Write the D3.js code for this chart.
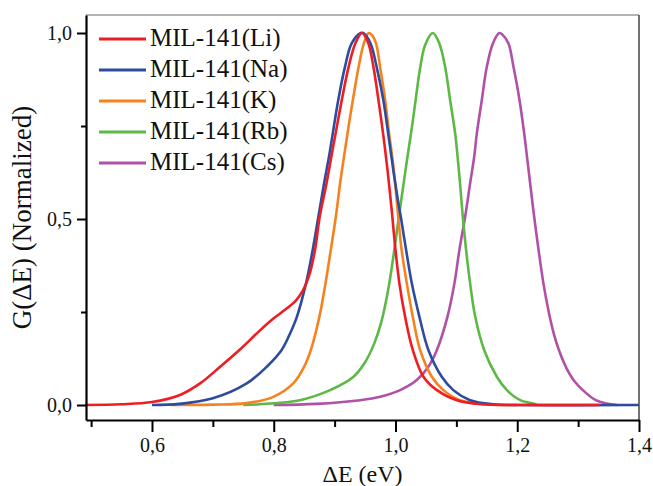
<!DOCTYPE html>
<html>
<head>
<meta charset="utf-8">
<script src="https://cdn.jsdelivr.net/npm/d3@7"></script>
<style>
  html, body { margin: 0; padding: 0; background: #fff; }
  svg { display: block; }
  svg text { font-family: "Liberation Serif", "DejaVu Serif", "Times New Roman", Times, serif !important; fill: #111; }
</style>
</head>
<body>
<svg id="chart" width="653" height="486"></svg>
<script>
// Normalized distributions G(ΔE) for the MIL-141 series, as [ΔE (eV), G] pairs
const seriesNames = ["MIL-141(Li)", "MIL-141(Na)", "MIL-141(K)", "MIL-141(Rb)", "MIL-141(Cs)"];
const seriesColors = ["#ee1d23", "#2e4c9f", "#f5821f", "#5cb946", "#b050a6"];

const li = [
  [0.49,0],[0.55,0.002],[0.60,0.008],[0.646,0.027],[0.679,0.058],[0.712,0.103],[0.745,0.150],
  [0.777,0.200],[0.80,0.233],[0.82,0.258],[0.836,0.28],[0.848,0.308],[0.858,0.347],[0.8678,0.417],
  [0.8755,0.506],[0.886,0.59],[0.896,0.68],[0.905,0.76],[0.913,0.83],[0.923,0.909],[0.934,0.972],
  [0.945,1.0],[0.9555,0.972],[0.9637,0.909],[0.972,0.820],[0.980,0.725],[0.987,0.63],[0.994,0.52],
  [0.9995,0.425],[1.0064,0.327],[1.0158,0.237],[1.0284,0.148],[1.0459,0.076],[1.068,0.040],
  [1.1008,0.013],[1.14,0.002],[1.2,0],[1.336,0]
];
const na = [
  [0.60,0],[0.645,0.003],[0.70,0.018],[0.7556,0.058],[0.7885,0.103],[0.813,0.148],[0.827,0.193],
  [0.838,0.237],[0.853,0.327],[0.864,0.417],[0.8733,0.506],[0.8827,0.596],[0.8915,0.675],
  [0.906,0.82],[0.917,0.909],[0.928,0.972],[0.943,1.0],[0.947,1.0],[0.959,0.972],[0.969,0.909],
  [0.980,0.82],[0.988,0.73],[0.9965,0.63],[1.004,0.55],[1.0087,0.506],[1.0174,0.417],[1.0268,0.327],
  [1.0393,0.237],[1.054,0.148],[1.076,0.076],[1.095,0.040],[1.1226,0.013],[1.16,0.002],[1.2,0],[1.4,0]
];
const k = [
  [0.63,0],[0.70,0.001],[0.7556,0.005],[0.7994,0.022],[0.832,0.058],[0.85,0.103],[0.861,0.148],
  [0.875,0.237],[0.885,0.327],[0.8937,0.417],[0.902,0.506],[0.909,0.596],[0.917,0.685],[0.924,0.76],
  [0.931,0.83],[0.939,0.905],[0.948,0.972],[0.956,1.0],[0.961,0.995],[0.968,0.972],[0.9747,0.909],[0.983,0.82],
  [0.9895,0.73],[0.9966,0.641],[1.002,0.55],[1.006,0.48],[1.010,0.417],[1.0186,0.327],[1.0284,0.237],
  [1.0404,0.148],[1.0597,0.076],[1.0787,0.040],[1.106,0.013],[1.15,0.002],[1.2,0]
];
const rb = [
  [0.75,0],[0.777,0.002],[0.843,0.013],[0.8925,0.040],[0.931,0.076],[0.95,0.115],[0.965,0.165],
  [0.977,0.225],[0.988,0.31],[0.9966,0.40],[1.005,0.50],[1.012,0.58],[1.019,0.66],[1.0268,0.745],
  [1.0339,0.83],[1.0404,0.905],[1.0487,0.968],[1.0613,1.0],[1.072,0.972],[1.0815,0.909],[1.0897,0.82],
  [1.098,0.73],[1.103,0.65],[1.106,0.596],[1.1106,0.506],[1.116,0.417],[1.1226,0.327],[1.131,0.237],
  [1.1456,0.148],[1.1665,0.076],[1.183,0.040],[1.2048,0.013],[1.23,0.002],[1.232,0]
];
const cs = [
  [0.80,0],[0.87,0.003],[0.942,0.013],[0.975,0.022],[1.0076,0.040],[1.035,0.067],[1.054,0.103],
  [1.068,0.148],[1.0853,0.237],[1.0968,0.327],[1.105,0.417],[1.1144,0.506],[1.1226,0.596],
  [1.1295,0.67],[1.1336,0.73],[1.1418,0.82],[1.150,0.909],[1.160,0.972],[1.1705,1.0],[1.176,0.995],
  [1.1856,0.972],[1.1938,0.909],[1.2037,0.82],[1.2114,0.73],[1.218,0.64],[1.2212,0.596],[1.2278,0.506],
  [1.235,0.417],[1.243,0.327],[1.252,0.248],[1.26,0.192],[1.269,0.145],[1.28,0.102],[1.293,0.066],
  [1.309,0.038],[1.329,0.013],[1.347,0.004],[1.364,0]
];
const seriesData = [li, na, k, rb, cs];

const xMajorTicks = [0.6, 0.8, 1.0, 1.2, 1.4];
const xMinorTicks = [0.5, 0.7, 0.9, 1.1, 1.3];
const yMajorTicks = [0.0, 0.5, 1.0];
const yMinorTicks = [0.25, 0.75];
const xTitle = "ΔE (eV)";
const yTitle = "G(ΔE) (Normalized)";

// plot frame
const frameL = 86, frameR = 639, frameT = 15, frameB = 420;

const svg = d3.select("#chart");
const x = d3.scaleLinear().domain([0.4916, 1.4]).range([frameL, frameR]);
const y = d3.scaleLinear().domain([-0.0403, 1.0484]).range([frameB, frameT]);
const fmt = d => d3.format(".1f")(d).replace(".", ",");

// curves, drawn back to front so Li ends up on top
const line = d3.line().x(d => x(d[0])).y(d => y(d[1])).curve(d3.curveCatmullRom.alpha(0.5));
const order = [4, 3, 2, 1, 0];
svg.append("g").selectAll("path")
  .data(order)
  .join("path")
  .attr("d", i => line(seriesData[i]))
  .attr("fill", "none")
  .attr("stroke", i => seriesColors[i])
  .attr("stroke-width", 2.6)
  .attr("stroke-linejoin", "round");

// top and right border
svg.append("line").attr("x1", frameL).attr("x2", frameR).attr("y1", frameT).attr("y2", frameT)
  .attr("stroke", "#9a9a9a").attr("stroke-width", 1.5);
svg.append("line").attr("x1", frameR).attr("x2", frameR).attr("y1", frameT).attr("y2", frameB)
  .attr("stroke", "#444").attr("stroke-width", 1.5);

// x axis
const xAxis = d3.axisBottom(x).tickValues(xMajorTicks).tickFormat(fmt).tickSize(12).tickSizeOuter(0).tickPadding(6);
const gx = svg.append("g").attr("transform", `translate(0,${frameB})`).call(xAxis);
gx.attr("font-family", null);
gx.select(".domain").attr("stroke", "#000").attr("stroke-width", 2.2);
gx.selectAll(".tick line").attr("stroke", "#000").attr("stroke-width", 2);
gx.selectAll(".tick text").attr("font-size", 20).attr("fill", "#111");
const gxm = svg.append("g").attr("transform", `translate(0,${frameB})`)
  .call(d3.axisBottom(x).tickValues(xMinorTicks).tickFormat("").tickSize(7).tickSizeOuter(0));
gxm.select(".domain").remove();
gxm.selectAll(".tick line").attr("stroke", "#000").attr("stroke-width", 2);

// y axis
const yAxis = d3.axisLeft(y).tickValues(yMajorTicks).tickFormat(fmt).tickSize(9).tickSizeOuter(0).tickPadding(5);
const gy = svg.append("g").attr("transform", `translate(${frameL},0)`).call(yAxis);
gy.attr("font-family", null);
gy.select(".domain").attr("stroke", "#000").attr("stroke-width", 2.2);
gy.selectAll(".tick line").attr("stroke", "#000").attr("stroke-width", 2);
gy.selectAll(".tick text").attr("font-size", 20).attr("fill", "#111");
const gym = svg.append("g").attr("transform", `translate(${frameL},0)`)
  .call(d3.axisLeft(y).tickValues(yMinorTicks).tickFormat("").tickSize(5).tickSizeOuter(0));
gym.select(".domain").remove();
gym.selectAll(".tick line").attr("stroke", "#000").attr("stroke-width", 2);

// axis titles
svg.append("text").attr("x", (frameL + frameR) / 2).attr("y", 482)
  .attr("text-anchor", "middle").attr("font-size", 24).text(xTitle);
svg.append("text").attr("transform", `translate(31,${(frameT + frameB) / 2}) rotate(-90)`)
  .attr("text-anchor", "middle").attr("font-size", 27).text(yTitle);

// legend
const legend = svg.append("g").selectAll("g")
  .data(seriesNames)
  .join("g")
  .attr("transform", (d, i) => `translate(0,${39 + i * 31})`);
legend.append("line").attr("x1", 99).attr("x2", 146).attr("y1", 0).attr("y2", 0)
  .attr("stroke", (d, i) => seriesColors[i]).attr("stroke-width", 3);
legend.append("text").attr("x", 150).attr("y", 7).attr("font-size", 25).text(d => d);
</script>
</body>
</html>
